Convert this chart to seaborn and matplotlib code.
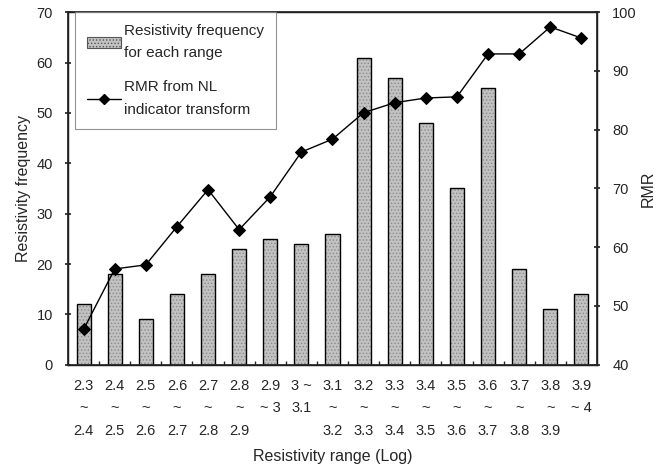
import matplotlib
matplotlib.use("Agg")
import matplotlib.pyplot as plt
import seaborn as sns
import pandas as pd
from matplotlib.patches import Patch
from matplotlib.lines import Line2D

# Resistivity ranges (log scale) and the derived values
ranges = ["2.3\n~\n2.4", "2.4\n~\n2.5", "2.5\n~\n2.6", "2.6\n~\n2.7", "2.7\n~\n2.8",
          "2.8\n~\n2.9", "2.9\n~ 3\n", "3 ~\n3.1\n", "3.1\n~\n3.2", "3.2\n~\n3.3",
          "3.3\n~\n3.4", "3.4\n~\n3.5", "3.5\n~\n3.6", "3.6\n~\n3.7", "3.7\n~\n3.8",
          "3.8\n~\n3.9", "3.9\n~ 4\n"]
frequency = [12, 18, 9, 14, 18, 23, 25, 24, 26, 61, 57, 48, 35, 55, 19, 11, 14]
rmr = [46.0, 56.3, 57.0, 63.5, 69.8, 63.0, 68.6, 76.2, 78.4, 82.9, 84.6, 85.4, 85.6,
       92.9, 92.9, 97.5, 95.6]

df = pd.DataFrame({"range": ranges, "frequency": frequency, "rmr": rmr})

sns.set_theme(style="white")
plt.rcParams["font.family"] = ["Liberation Sans", "DejaVu Sans"]
plt.rcParams["hatch.linewidth"] = 0.6

fig = plt.figure(figsize=(6.67, 4.70), dpi=100)
ax = fig.add_axes([0.102, 0.224, 0.793, 0.750])

# textured fill: grey bars with a fine grey dot hatch
sns.barplot(data=df, x="range", y="frequency", ax=ax, order=ranges,
            color="#c2c2c2", saturation=1, width=0.45,
            edgecolor="#8a8a8a", linewidth=0, zorder=2)
for p in ax.patches:
    p.set_hatch(".....")
# black outlines on top
sns.barplot(data=df, x="range", y="frequency", ax=ax, order=ranges,
            fill=False, width=0.45, edgecolor="black", linewidth=1.0, zorder=3)

ax.set_ylim(0, 70)
ax.set_yticks(range(0, 71, 10))
ax.set_xlim(-0.5, len(ranges) - 0.5)
ax.set_ylabel("Resistivity frequency", fontsize=11.5, labelpad=4)
ax.set_xlabel("Resistivity range (Log)", fontsize=11.5, labelpad=8)
ax.tick_params(axis="y", direction="inout", length=4, labelsize=10.5, pad=9)
ax.tick_params(axis="x", length=0, labelsize=10.5, pad=10)
for lab in ax.get_xticklabels():
    lab.set_linespacing(1.8)
    lab.set_verticalalignment("top")
# category boundary ticks along the bottom
ax.set_xticks([i + 0.5 for i in range(len(ranges) - 1)], minor=True)
ax.tick_params(axis="x", which="minor", direction="in", length=3, bottom=True)

for s in ax.spines.values():
    s.set_color("black")
    s.set_linewidth(1.0)

ax2 = ax.twinx()
sns.lineplot(data=df, x="range", y="rmr", ax=ax2, sort=False, color="black",
             linewidth=1.0, marker="D", markersize=6, markeredgecolor="black")
ax2.set_ylim(40, 100)
ax2.set_yticks(range(40, 101, 10))
ax2.set_ylabel("RMR", fontsize=11.5, labelpad=3)
ax2.tick_params(axis="y", direction="inout", length=4, labelsize=10.5, pad=9, right=True)
ax2.set_xlabel("")

handles = [Patch(facecolor="#c2c2c2", edgecolor="#555555", hatch=".....", linewidth=0.8),
           Line2D([], [], color="black", linewidth=1.0, marker="D", markersize=5)]
labels = ["Resistivity frequency\nfor each range", "RMR from NL\nindicator transform"]
leg = ax2.legend(handles, labels, loc="upper left", bbox_to_anchor=(0.014, 1.0),
                 fontsize=11, frameon=True, fancybox=False, handlelength=2.2,
                 handletextpad=0.25, labelspacing=1.3, borderpad=0.75,
                 borderaxespad=0.0)
for t in leg.get_texts():
    t.set_linespacing(1.8)
leg.get_frame().set_edgecolor("#777777")
leg.get_frame().set_linewidth(0.8)

fig.savefig("out.png", dpi=100)
